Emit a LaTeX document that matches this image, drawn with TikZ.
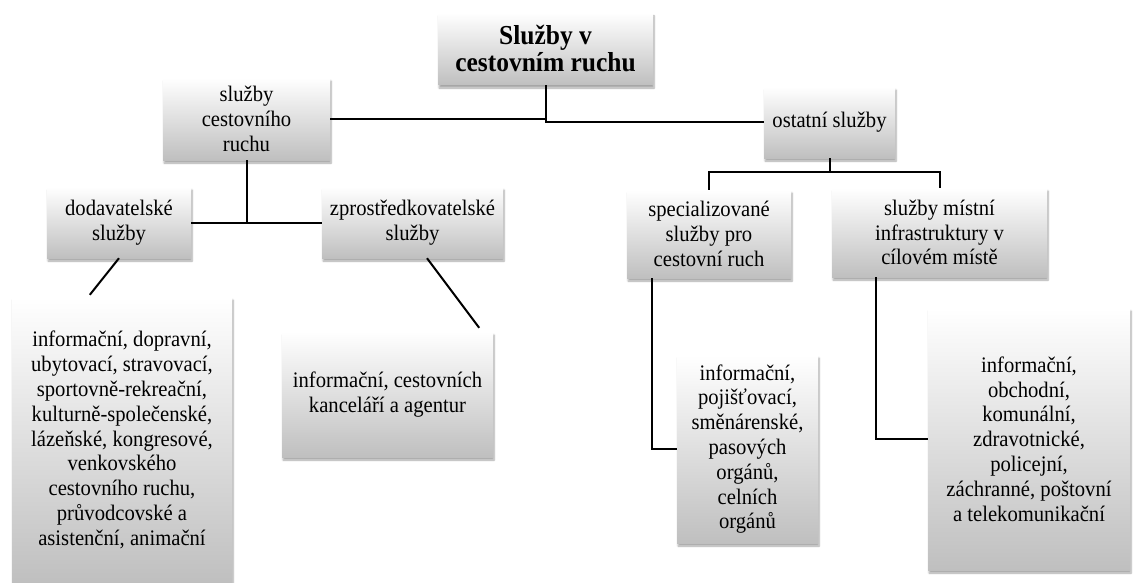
\documentclass[tikz,border=0pt]{standalone}
\usepackage{fontspec}
\setmainfont[FakeStretch=0.93]{Liberation Serif}
\usetikzlibrary{shadows.blur}
\begin{document}
\begin{tikzpicture}[x=1pt, y=1pt,
    box/.style={top color=white, bottom color=gray!50, align=center,
        inner sep=2pt, font=\fontsize{22.2}{24.8}\selectfont,
        blur shadow={shadow xshift=1pt, shadow yshift=-3pt, shadow blur steps=6, shadow opacity=35}},
    link/.style={line width=2pt, black}]

    \useasboundingbox (0,0) rectangle (1134,-583);

    % horni uroven
    \node[box, minimum width=215, minimum height=72, font=\fontsize{27.4}{27}\selectfont\bfseries]
        (top) at (545.5,-49) {Služby v\\cestovním ruchu};
    \node[box, minimum width=167, minimum height=82] (scr) at (246.5,-119) {služby\\cestovního\\ruchu};
    \node[box, minimum width=131, minimum height=71] (ost) at (829.5,-122.5) {ostatní služby};

    % druha uroven
    \node[box, minimum width=144, minimum height=71] (dod) at (119,-222.5) {dodavatelské\\služby};
    \node[box, minimum width=181, minimum height=71] (zpr) at (412.5,-222.5) {zprostředkovatelské\\služby};
    \node[box, minimum width=164, minimum height=88] (spec) at (709,-234) {specializované\\služby pro\\cestovní ruch};
    \node[box, minimum width=215, minimum height=89] (mist) at (939.5,-232.5) {služby místní\\infrastruktury v\\cílovém místě};

    % vycty sluzeb
    \node[box, minimum width=220, minimum height=286] (big) at (122,-440)
        {informační, dopravní,\\ubytovací, stravovací,\\sportovně-rekreační,\\kulturně-společenské,\\lázeňské, kongresové,\\venkovského\\cestovního ruchu,\\průvodcovské a\\asistenční, animační};
    \node[box, minimum width=211, minimum height=125] (kanc) at (387.5,-394.5)
        {informační, cestovních\\kanceláří a agentur};
    \node[box, minimum width=141, minimum height=188] (poj) at (747.5,-449)
        {informační,\\pojišťovací,\\směnárenské,\\pasových\\orgánů,\\celních\\orgánů};
    \node[box, minimum width=202, minimum height=262] (infra) at (1029,-439)
        {informační,\\obchodní,\\komunální,\\zdravotnické,\\policejní,\\záchranné, poštovní\\a telekomunikační};

    \coordinate (ostj) at ([yshift=-14pt]ost.south);
    \coordinate (dodend) at ([xshift=78pt, yshift=2pt]big.north west);
    \coordinate (zprend) at ([xshift=-14pt, yshift=4pt]kanc.north east);

    \draw[link] (scr.east) -- (top.south |- scr.east) -- (top.south);
    \draw[link] (top.south |- scr.east) |- (ost.west);
    \draw[link] (scr.south) -- (scr.south |- dod.east);
    \draw[link] (dod.east) -- (zpr.west);
    \draw[link] (ost.south) -- (ostj);
    \draw[link] (spec.north) |- (ostj) -| (mist.north);
    \draw[link] (dod.south) -- (dodend);
    \draw[link] ([xshift=14.5pt]zpr.south) -- (zprend);
    \draw[link] ([xshift=-57pt]spec.south) |- (poj.west);
    \draw[link] ([xshift=-63.5pt]mist.south) |- (infra.west);
\end{tikzpicture}
\end{document}
